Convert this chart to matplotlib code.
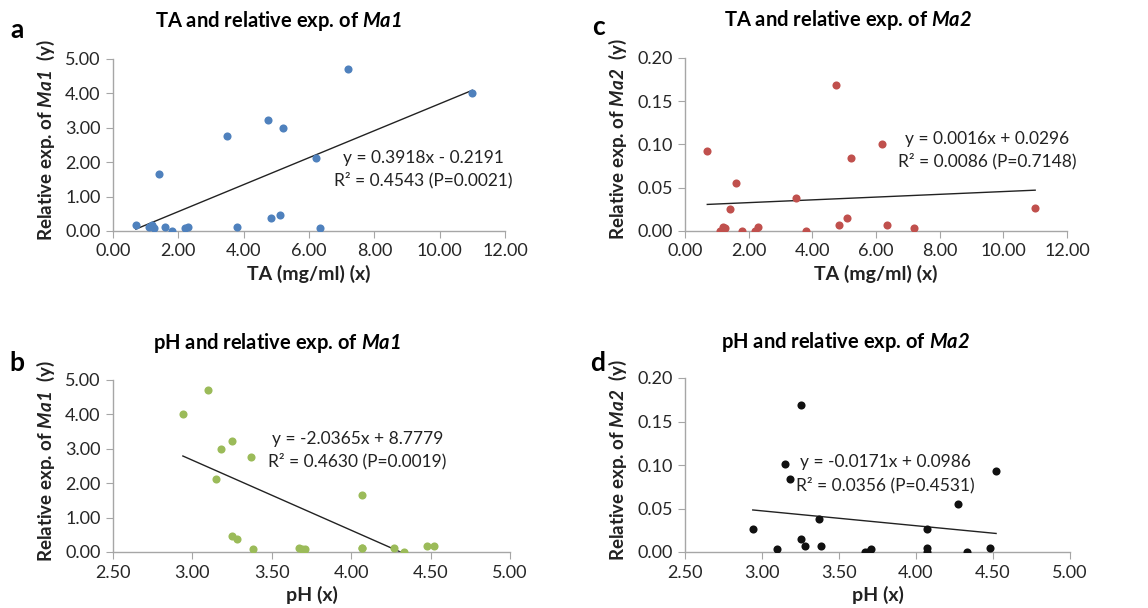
import matplotlib
matplotlib.use("Agg")
import matplotlib.pyplot as plt

plt.rcParams['font.family'] = ['Lato', 'DejaVu Sans']
plt.rcParams['mathtext.fontset'] = 'custom'
# gene names are the only mathtext, all bold italic (digits included)
plt.rcParams['mathtext.rm'] = 'Lato:italic:bold'
plt.rcParams['mathtext.it'] = 'Lato:italic:bold'
plt.rcParams['mathtext.bf'] = 'Lato:italic:bold'

# one entry per sample
ta = [0.70, 1.10, 1.20, 1.25, 1.40, 1.60, 1.80, 2.20, 2.30, 3.50,
      3.80, 4.75, 4.85, 5.10, 5.20, 6.20, 6.35, 7.20, 11.00]
ph = [4.52, 4.07, 4.48, 3.71, 4.07, 4.27, 4.33, 3.69, 4.07, 3.37,
      3.67, 3.25, 3.28, 3.25, 3.18, 3.15, 3.38, 3.10, 2.94]
ma1 = [0.17, 0.12, 0.17, 0.08, 1.65, 0.13, 0.00, 0.10, 0.12, 2.75,
       0.13, 3.22, 0.38, 0.47, 3.00, 2.12, 0.08, 4.70, 4.00]
ma2 = [0.093, 0.000, 0.005, 0.003, 0.026, 0.055, 0.000, 0.000, 0.005, 0.038,
       0.000, 0.169, 0.007, 0.015, 0.084, 0.101, 0.007, 0.003, 0.027]

# trend line coefficients (slope, intercept) as printed
fit_a = (0.3918, -0.2191)
fit_b = (-2.0365, 8.7779)
fit_c = (0.0016, 0.0296)
fit_d = (-0.0171, 0.0986)

W, H = 1148, 608
fig = plt.figure(figsize=(W / 100, H / 100), dpi=100)


def px_axes(x0, y0, x1, y1):
    return fig.add_axes([x0 / W, 1 - y1 / H, (x1 - x0) / W, (y1 - y0) / H])


def panel(rect, x, y, fit, color, xlim, xstep, ylim, ystep, gene, xlabel,
          title, title_xy, letter, letter_xy, eq, eq_xy):
    ax = px_axes(*rect)
    ax.scatter(x, y, s=34, color=color, zorder=3, linewidths=0)
    xs = [min(x), max(x)]
    ax.plot(xs, [fit[0] * v + fit[1] for v in xs], color='#222222', lw=1.0, zorder=2)
    ax.set_xlim(*xlim)
    ax.set_ylim(*ylim)
    nx = int(round((xlim[1] - xlim[0]) / xstep))
    ny = int(round((ylim[1] - ylim[0]) / ystep))
    ax.set_xticks([xlim[0] + i * xstep for i in range(nx + 1)])
    ax.set_yticks([ylim[0] + i * ystep for i in range(ny + 1)])
    ax.xaxis.set_major_formatter(matplotlib.ticker.FormatStrFormatter('%.2f'))
    ax.yaxis.set_major_formatter(matplotlib.ticker.FormatStrFormatter('%.2f'))
    for s in ['top', 'right']:
        ax.spines[s].set_visible(False)
    for s in ['left', 'bottom']:
        ax.spines[s].set_color('#a6a6a6')
        ax.spines[s].set_linewidth(1.0)
    ax.tick_params(direction='out', length=5, color='#a6a6a6', labelsize=13,
                   labelcolor='#262626', pad=4)
    ax.set_xlabel(xlabel, fontsize=14, fontweight='bold', color='#222222', labelpad=4)
    ax.set_ylabel('Relative exp. of $%s$  (y)' % gene, fontsize=13.5,
                  fontweight='bold', color='#222222')
    width_px = rect[2] - rect[0]
    ax.yaxis.set_label_coords(-56 / width_px, 0.53)
    fig.text(title_xy[0] / W, 1 - title_xy[1] / H,
             '%s and relative exp. of $%s$' % (title, gene),
             ha='center', va='center', fontsize=14.5, fontweight='bold')
    fig.text(letter_xy[0] / W, 1 - letter_xy[1] / H, letter, ha='center', va='center',
             fontsize=19, fontweight='bold')
    ax.text(eq_xy[0], eq_xy[1], eq, ha='center', va='center', fontsize=12.5,
            color='#222222', linespacing=1.45)
    return ax


panel((113, 59, 505, 231), ta, ma1, fit_a, '#4f81bd', (0, 12), 2, (0, 5), 1,
      'Ma1', 'TA (mg/ml) (x)', 'TA', (278, 21), 'a', (17, 30),
      'y = 0.3918x - 0.2191\nR² = 0.4543 (P=0.0021)', (9.5, 1.8))
panel((685, 58, 1067, 231), ta, ma2, fit_c, '#c0504d', (0, 12), 2, (0, 0.2), 0.05,
      'Ma2', 'TA (mg/ml) (x)', 'TA', (848, 20), 'c', (598, 27),
      'y = 0.0016x + 0.0296\nR² = 0.0086 (P=0.7148)', (9.5, 0.093))
panel((113, 380, 510, 552), ph, ma1, fit_b, '#9bbb59', (2.5, 5), 0.5, (0, 5), 1,
      'Ma1', 'pH (x)', 'pH', (277, 343), 'b', (17, 363),
      'y = -2.0365x + 8.7779\nR² = 0.4630 (P=0.0019)', (4.04, 2.95))
panel((685, 378, 1070, 552), ph, ma2, fit_d, '#111111', (2.5, 5), 0.5, (0, 0.2), 0.05,
      'Ma2', 'pH (x)', 'pH', (845, 342), 'd', (598, 363),
      'y = -0.0171x + 0.0986\nR² = 0.0356 (P=0.4531)', (3.80, 0.090))

fig.savefig('out.png', dpi=100)
